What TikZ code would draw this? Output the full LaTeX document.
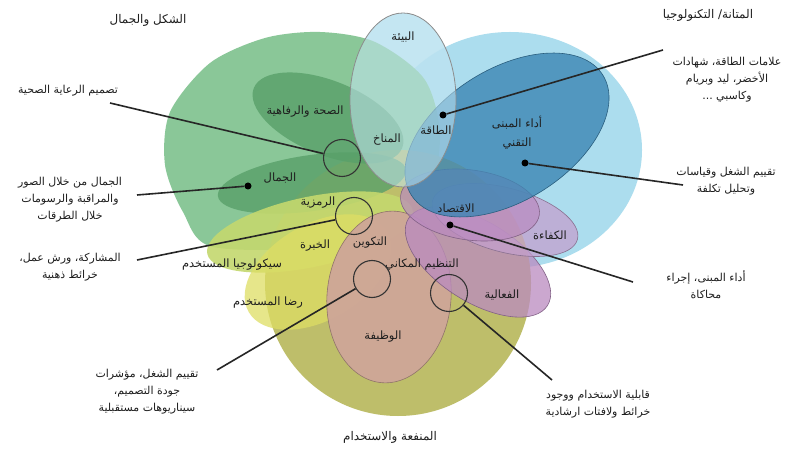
\documentclass[tikz,border=0pt]{standalone}
\usepackage{fontspec}
\newfontfamily\arabicfont[Script=Arabic]{DejaVu Sans}
\TeXXeTstate=1
\newcommand{\ar}[1]{\beginR #1\endR}
\definecolor{bigblue}{RGB}{172,221,238}
\definecolor{biggreen}{RGB}{138,199,152}
\definecolor{bigolive}{RGB}{190,190,106}
\definecolor{dkgreen}{RGB}{88,160,105}
\definecolor{ygreen}{RGB}{196,216,110}
\definecolor{yell}{RGB}{222,222,100}
\definecolor{pinkb}{RGB}{206,166,152}
\definecolor{purpA}{RGB}{186,138,192}
\definecolor{purpB}{RGB}{196,160,206}
\definecolor{dkblue}{RGB}{60,134,180}
\definecolor{envc}{RGB}{196,230,242}
\definecolor{txt}{RGB}{30,30,30}
\begin{document}
\begin{tikzpicture}[x=1bp,y=-1bp,
  lbl/.style={font=\arabicfont\fontsize{11}{17}\selectfont, text=txt, align=center, inner sep=0pt},
  inlbl/.style={font=\arabicfont\fontsize{11.5}{19}\selectfont, text=txt, align=center, inner sep=0pt},
  ttl/.style={font=\arabicfont\fontsize{12}{14}\selectfont, text=txt, inner sep=0pt},
  dotmark/.style={circle, fill=black, inner sep=0pt, minimum size=7bp},
  ring/.style={circle, draw=black!80, line width=1.1bp, inner sep=0pt, minimum size=37bp},
  callout/.style={draw=black!85, line width=1.6bp},
  soft/.style={fill opacity=0.8}
]
\useasboundingbox (0,0) rectangle (787,450);
\fill[white] (0,0) rectangle (787,450);
% environment underlay (shows where no petal lies)
\fill[envc] (403,100) ellipse [x radius=53, y radius=87];
% big petals
\fill[bigblue] (510,150) ellipse [x radius=132, y radius=118];
\fill[biggreen] plot[smooth cycle] coordinates {(213,247) (183,212) (165,165) (170,112) (210,63) (265,38) (320,32) (375,42) (425,80) (440,140) (420,205) (330,245)};
\fill[bigolive] (398,283) circle [radius=133];
% green inner
\fill[dkgreen, soft, rotate around={-22:(328,118)}] (328,118) ellipse [x radius=80, y radius=37];
\fill[dkgreen, soft, rotate around={8:(312,183)}] (312,183) ellipse [x radius=95, y radius=28];
% yellow inner
\fill[ygreen, fill opacity=0.9, rotate around={12:(310,232)}] (310,232) ellipse [x radius=105, y radius=35];
\fill[yell, fill opacity=0.75, rotate around={30:(318,272)}] (318,272) ellipse [x radius=80, y radius=48];
% function
\filldraw[pinkb, draw=pinkb!70!black, line width=0.6bp, fill opacity=0.95, rotate around={-5:(389,297)}] (389,297) ellipse [x radius=62, y radius=86];
% purple
\filldraw[purpA, draw=purpA!70!black, line width=0.6bp, fill opacity=0.75, rotate around={-32:(478,262)}] (478,262) ellipse [x radius=82, y radius=40];
\filldraw[purpB, draw=purpB!70!black, line width=0.6bp, fill opacity=0.75, rotate around={-15:(505,220)}] (505,220) ellipse [x radius=75, y radius=32];
\filldraw[purpA, draw=purpA!70!black, line width=0.6bp, fill opacity=0.7, rotate around={-8:(470,205)}] (470,205) ellipse [x radius=70, y radius=35];
% dark blue
\filldraw[dkblue, draw=dkblue!70!black, line width=0.6bp, fill opacity=0.8, rotate around={32:(507,135)}] (507,135) ellipse [x radius=113, y radius=66];
% environment
\filldraw[envc, draw=black!45, line width=0.8bp, fill opacity=0.55] (403,100) ellipse [x radius=53, y radius=87];

% titles
\node[ttl] (t1) at (148,20) {\ar{الشكل والجمال}};
\node[ttl] (t2) at (708,15) {\ar{المتانة/ التكنولوجيا}};
\node[ttl] (t3) at (390,437) {\ar{المنفعة والاستخدام}};

% inner labels
\node[inlbl] (n1) at (403,37) {\ar{البيئة}};
\node[inlbl] (n2) at (305,112) {\ar{الصحة والرفاهية}};
\node[inlbl] (n3) at (387,140) {\ar{المناخ}};
\node[inlbl] (n4) at (436,130) {\ar{الطاقة}};
\node[inlbl] (n5) at (517,133) {\ar{أداء المبنى}\\\ar{التقني}};
\node[inlbl] (n6) at (280,178) {\ar{الجمال}};
\node[inlbl] (n7) at (318,203) {\ar{الرمزية}};
\node[inlbl] (n8) at (315,246) {\ar{الخبرة}};
\node[inlbl] (n9) at (370,243) {\ar{التكوين}};
\node[inlbl] (n10) at (232,265) {\ar{سيكولوجيا المستخدم}};
\node[inlbl] (n11) at (268,303) {\ar{رضا المستخدم}};
\node[inlbl] (n12) at (383,337) {\ar{الوظيفة}};
\node[inlbl] (n13) at (422,265) {\ar{التنظيم المكاني}};
\node[inlbl] (n14) at (502,295) {\ar{الفعالية}};
\node[inlbl] (n15) at (550,235) {\ar{الكفاءة}};
\node[inlbl] (n16) at (456,208) {\ar{الاقتصاد}};

% markers
\node[dotmark] (d1) at (443,115) {};
\node[dotmark] (d2) at (525,163) {};
\node[dotmark] (d3) at (450,225) {};
\node[dotmark] (d4) at (248,186) {};
\node[ring] (c1) at (342,158) {};
\node[ring] (c2) at (354,216) {};
\node[ring] (c3) at (372,279) {};
\node[ring] (c4) at (449,293) {};

% callout ends
\coordinate (e1) at (663,50);
\coordinate (e2) at (683,185);
\coordinate (e3) at (633,282);
\coordinate (e4) at (137,195);
\coordinate (e5) at (110,103);
\coordinate (e6) at (137,260);
\coordinate (e7) at (217,370);
\coordinate (e8) at (552,380);

\draw[callout] (d1) -- (e1);
\draw[callout] (d2) -- (e2);
\draw[callout] (d3) -- (e3);
\draw[callout] (d4) -- (e4);
\draw[callout] (c1) -- (e5);
\draw[callout] (c2) -- (e6);
\draw[callout] (c3) -- (e7);
\draw[callout] (c4) -- (e8);

% callout labels
\node[lbl] (l1) at (68,91) {\ar{تصميم الرعاية الصحية}};
\node[lbl] (l2) at (70,200) {\ar{الجمال من خلال الصور}\\\ar{والمراقبة والرسومات}\\\ar{خلال الطرقات}};
\node[lbl] (l3) at (70,267) {\ar{المشاركة، ورش عمل،}\\\ar{خرائط ذهنية}};
\node[lbl] (l4) at (147,392) {\ar{تقييم الشغل، مؤشرات}\\\ar{جودة التصميم،}\\\ar{سيناريوهات مستقبلية}};
\node[lbl] (l5) at (598,404) {\ar{قابلية الاستخدام ووجود}\\\ar{خرائط ولافتات ارشادية}};
\node[lbl] (l6) at (706,285) {\ar{أداء المبنى، إجراء}\\\ar{محاكاة}};
\node[lbl] (l7) at (726,181) {\ar{تقييم الشغل وقياسات}\\\ar{وتحليل تكلفة}};
\node[lbl] (l8) at (727,80) {\ar{علامات الطاقة، شهادات}\\\ar{الأخضر، ليد وبريام}\\\ar{وكاسبي ...}};
\end{tikzpicture}
\end{document}
